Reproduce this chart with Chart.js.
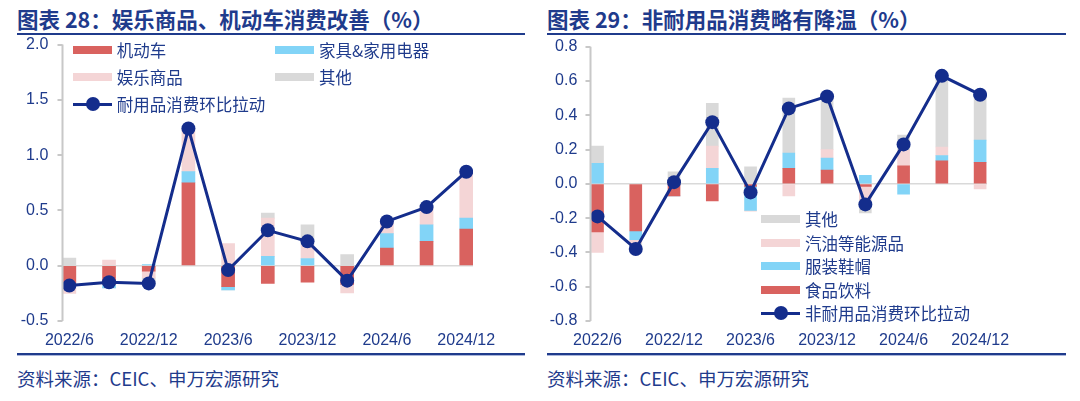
<!DOCTYPE html>
<html>
<head>
<meta charset="utf-8">
<script src="https://cdn.jsdelivr.net/npm/chart.js@4.4.1/dist/chart.umd.min.js"></script>
<style>
  body { margin: 0; width: 1080px; height: 401px; position: relative; overflow: hidden; background: #fff;
         font-family: "Noto Sans CJK SC", "Noto Sans", sans-serif; color: #1f3b8c; }
  .title { position: absolute; top: 5px; font-size: 21.5px; font-weight: bold; line-height: 28px; white-space: nowrap; }
  .rule { position: absolute; top: 33px; height: 2px; background: #1f3b8c; }
  .foot { position: absolute; top: 353px; height: 2px; background: #1f3b8c; border-bottom: 1px solid #aab6da; }
  .src { position: absolute; top: 366px; font-size: 18.5px; line-height: 24px; white-space: nowrap; }
  .wrap { position: absolute; top: 36px; width: 540px; height: 310px; }
  .lg { position: absolute; height: 20px; display: flex; align-items: center; font-size: 16.5px; white-space: nowrap; }
  .sw { width: 39px; height: 8px; margin-right: 5px; }
  .ln { width: 39px; height: 14px; margin-right: 5px; position: relative; }
  .ln::before { content: ""; position: absolute; left: 0; right: 0; top: 5.5px; height: 3px; background: #142d8c; }
  .ln::after { content: ""; position: absolute; left: 13px; top: 0; width: 14px; height: 14px; border-radius: 50%; background: #142d8c; }
</style>
</head>
<body>
<div class="title" style="left:17px">图表 28：娱乐商品、机动车消费改善（%）</div>
<div class="rule" style="left:17px;width:508px"></div>
<div class="title" style="left:547px">图表 29：非耐用品消费略有降温（%）</div>
<div class="rule" style="left:547px;width:519px"></div>

<div class="wrap" style="left:0"><canvas id="c1" width="540" height="310"></canvas></div>
<div class="wrap" style="left:540px"><canvas id="c2" width="540" height="310"></canvas></div>

<div class="foot" style="left:17px;width:508px"></div>
<div class="foot" style="left:547px;width:519px"></div>
<div class="src" style="left:17px">资料来源：CEIC、申万宏源研究</div>
<div class="src" style="left:547px">资料来源：CEIC、申万宏源研究</div>

<script>
// quarters shared by both panels
const quarters = ['2022/6', '2022/9', '2022/12', '2023/3', '2023/6', '2023/9', '2023/12', '2024/3', '2024/6', '2024/9', '2024/12'];
const tickIdx = [0, 2, 4, 6, 8, 10];

// chart 28: durables
const motor     = [-0.16, -0.17, -0.05, 0.75, -0.19, -0.16, -0.15, -0.17, 0.16, 0.22, 0.33];
const furniture = [-0.02, -0.03, 0.01, 0.10, -0.03, 0.085, 0.065, 0.0, 0.13, 0.15, 0.10];
const leisure   = [-0.07, 0.05, -0.06, 0.39, 0.20, 0.345, 0.12, -0.075, 0.11, 0.16, 0.42];
const otherDur  = [0.07, 0.0, -0.06, 0.0, 0.0, 0.045, 0.185, 0.10, 0.0, 0.0, 0.0];
const durTotal  = [-0.18, -0.15, -0.16, 1.24, -0.04, 0.32, 0.22, -0.135, 0.40, 0.53, 0.85];

// chart 29: non-durables
const food      = [-0.28, -0.275, -0.07, -0.10, -0.015, 0.09, 0.08, -0.015, 0.105, 0.135, 0.125];
const clothing  = [0.12, -0.05, 0.0, 0.09, -0.14, 0.09, 0.07, 0.05, -0.06, 0.03, 0.13];
const energy    = [-0.12, -0.02, 0.0, 0.13, -0.005, -0.07, 0.05, -0.08, 0.09, 0.05, -0.03];
const otherNon  = [0.10, -0.03, 0.07, 0.25, 0.10, 0.32, 0.31, -0.075, 0.09, 0.41, 0.265];
const nonTotal  = [-0.19, -0.38, 0.01, 0.36, -0.05, 0.44, 0.51, -0.12, 0.23, 0.63, 0.52];

const RED = '#d9625f', BLUE = '#82d4f7', PINK = '#f4d5d6', GREY = '#d9d9d9', NAVY = '#142d8c', TXT = '#1f3b8c';
const AXIS = '#c8c8c8';
const tickFont = { family: '"Liberation Sans", Arial, sans-serif', size: 16 };

const pts = arr => arr.map((v, i) => ({ x: i, y: v }));

function barSet(label, arr, color, w) {
  return { type: 'bar', label, data: pts(arr), backgroundColor: color, barThickness: w, order: 1 };
}
function lineSet(label, arr) {
  return { type: 'line', label, data: pts(arr), borderColor: NAVY, backgroundColor: NAVY, borderWidth: 3,
           pointRadius: 7, pointHoverRadius: 7, pointBackgroundColor: NAVY, pointBorderWidth: 0, order: 0 };
}

// value axis line with small tick marks, drawn from the y scale's own ticks
const axisLine = {
  id: 'axisLine',
  afterDraw(chart) {
    const { ctx, chartArea: a, scales: { y } } = chart;
    const x = Math.round(a.left) - 0.5;
    ctx.save();
    ctx.strokeStyle = AXIS;
    ctx.lineWidth = 2;
    ctx.beginPath();
    ctx.moveTo(x, a.top);
    ctx.lineTo(x, a.bottom);
    y.ticks.forEach(t => {
      const py = Math.round(y.getPixelForValue(t.value));
      ctx.moveTo(x - 5, py);
      ctx.lineTo(x, py);
    });
    ctx.stroke();
    ctx.restore();
  }
};

function makeChart(id, datasets, o) {
  return new Chart(document.getElementById(id), {
    data: { datasets },
    plugins: [axisLine],
    options: {
      responsive: false,
      animation: false,
      layout: { padding: { top: o.top, right: o.right, left: 0, bottom: 0 } },
      plugins: { legend: { display: false }, tooltip: { enabled: false } },
      scales: {
        x: {
          type: 'linear', stacked: true, offset: false, min: o.xmin, max: o.xmax,
          afterBuildTicks: s => { s.ticks = tickIdx.map(v => ({ value: v })); },
          afterFit: s => { s.height = 25; s.paddingLeft = 0; s.paddingRight = 0; },
          ticks: { callback: v => quarters[v], font: tickFont, color: TXT, padding: 10, maxRotation: 0, autoSkip: false },
          grid: { display: false, drawTicks: false, offset: false },
          border: { display: false }
        },
        y: {
          stacked: true, min: o.ymin, max: o.ymax,
          afterFit: s => { s.width = o.left; s.paddingTop = 0; s.paddingBottom = 0; },
          ticks: { stepSize: o.step, callback: v => v.toFixed(1), font: tickFont, color: TXT, padding: o.pad },
          grid: {
            color: c => (c.tick && Math.abs(c.tick.value) < 1e-9) ? GREY : 'rgba(0,0,0,0)',
            lineWidth: 1.5, drawTicks: false
          },
          border: { display: false }
        }
      }
    }
  });
}

makeChart('c1', [
  barSet('机动车', motor, RED, 13),
  barSet('家具&家用电器', furniture, BLUE, 13),
  barSet('娱乐商品', leisure, PINK, 13),
  barSet('其他', otherDur, GREY, 13),
  lineSet('耐用品消费环比拉动', durTotal)
], { top: 8.5, right: 67, left: 63, xmin: -0.16, xmax: 10.17, ymin: -0.5, ymax: 2.0, step: 0.5, pad: 14.7 });

makeChart('c2', [
  barSet('食品饮料', food, RED, 12),
  barSet('服装鞋帽', clothing, BLUE, 12),
  barSet('汽油等能源品', energy, PINK, 12),
  barSet('其他', otherNon, GREY, 12),
  lineSet('非耐用品消费环比拉动', nonTotal)
], { top: 10.7, right: 93, left: 51, xmin: -0.17, xmax: 10.18, ymin: -0.8, ymax: 0.8, step: 0.2, pad: 13.7 });

// HTML legends
function legendItem(x, yc, label, color, isLine) {
  const d = document.createElement('div');
  d.className = 'lg';
  d.style.left = x + 'px';
  d.style.top = (yc - 10) + 'px';
  const m = document.createElement('span');
  m.className = isLine ? 'ln' : 'sw';
  if (!isLine) m.style.background = color;
  d.appendChild(m);
  d.appendChild(document.createTextNode(label));
  document.body.appendChild(d);
}
legendItem(72.7, 50, '机动车', RED);
legendItem(275, 50, '家具&家用电器', BLUE);
legendItem(72.7, 77, '娱乐商品', PINK);
legendItem(275, 77, '其他', GREY);
legendItem(72.7, 104, '耐用品消费环比拉动', NAVY, true);

legendItem(761, 219, '其他', GREY);
legendItem(761, 242.6, '汽油等能源品', PINK);
legendItem(761, 266.2, '服装鞋帽', BLUE);
legendItem(761, 289.8, '食品饮料', RED);
legendItem(761, 313.4, '非耐用品消费环比拉动', NAVY, true);
</script>
</body>
</html>
